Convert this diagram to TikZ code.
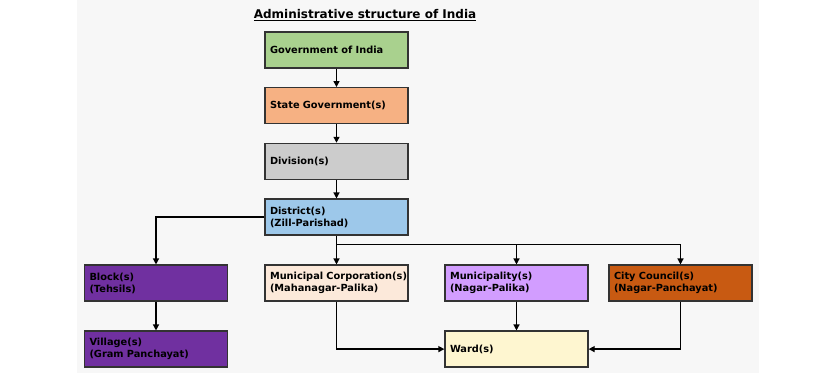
\documentclass[tikz,border=0pt]{standalone}
\usepackage{fontspec}
\setmainfont{DejaVu Sans}
\usetikzlibrary{arrows.meta}
\definecolor{govgreen}{HTML}{A9D18E}
\definecolor{stateorange}{HTML}{F6B183}
\definecolor{divgray}{HTML}{CCCCCC}
\definecolor{distblue}{HTML}{9DC8EA}
\definecolor{blockpurple}{HTML}{7030A0}
\definecolor{corppeach}{HTML}{FCE9DA}
\definecolor{munililac}{HTML}{D29DFF}
\definecolor{cityrust}{HTML}{C85A12}
\definecolor{wardcream}{HTML}{FEF6D0}
\definecolor{boxline}{HTML}{333333}
\tikzstyle{tp} = [rectangle, minimum width=143pt, minimum height=36pt, text width=133pt, inner xsep=5pt, align=left, draw=boxline, line width=1.3pt, font=\fontsize{9.8}{12}\selectfont\bfseries]
\tikzstyle{arrow} = [line width=1.3pt,-{Triangle[length=6pt,width=6pt]}]

\begin{document}
\begin{tikzpicture}[node distance=55.7pt]
\useasboundingbox (0,0) rectangle (817pt,-375pt);
\fill [black!3] (77pt,0) rectangle (759pt,-373pt);

%Title
\node (title) at (365pt,-15pt) {\fontsize{12}{14}\selectfont\bfseries\underline{Administrative structure of India}};

%Boxes
\node (gov) [tp, fill=govgreen] at (336.5pt,-50pt) {Government of India};
\node (state) [tp, fill=stateorange, below of=gov] {State Government(s)};
\node (division) [tp, fill=divgray, below of=state] {Division(s)};
\node (district) [tp, fill=distblue, below of=division] {District(s)\\(Zill-Parishad)};
%Rural
\node (corp) [tp, fill=corppeach, below of=district, node distance=66pt] {\mbox{Municipal Corporation(s)}\\(Mahanagar-Palika)};
\node (block) [tp, fill=blockpurple, left of=corp, node distance=180.5pt] {Block(s)\\(Tehsils)};
\node (village) [tp, fill=blockpurple, below of=block, node distance=66pt] {Village(s)\\(Gram Panchayat)};
%Urban
\node (muni) [tp, fill=munililac, right of=corp, node distance=180pt] {Municipality(s)\\(Nagar-Palika)};
\node (city) [tp, fill=cityrust, right of=muni, node distance=164pt] {City Council(s)\\(Nagar-Panchayat)};
\node (ward) [tp, fill=wardcream, below of=muni, node distance=66pt] {Ward(s)};
\coordinate (split) at ([yshift=-9pt]district.south);

%arrows
\draw [arrow] (gov) -- (state);
\draw [arrow] (state) -- (division);
\draw [arrow] (division) -- (district);
\draw [arrow] (district.west) -| (block);
\draw [arrow] (block) -- (village);
\draw [arrow] (district) -- (corp);
\draw [arrow] (split) -| (muni);
\draw [arrow] (split) -| (city);
\draw [arrow] (corp) |- (ward);
\draw [arrow] (muni) -- (ward);
\draw [arrow] (city) |- (ward);

\end{tikzpicture}
\end{document}
